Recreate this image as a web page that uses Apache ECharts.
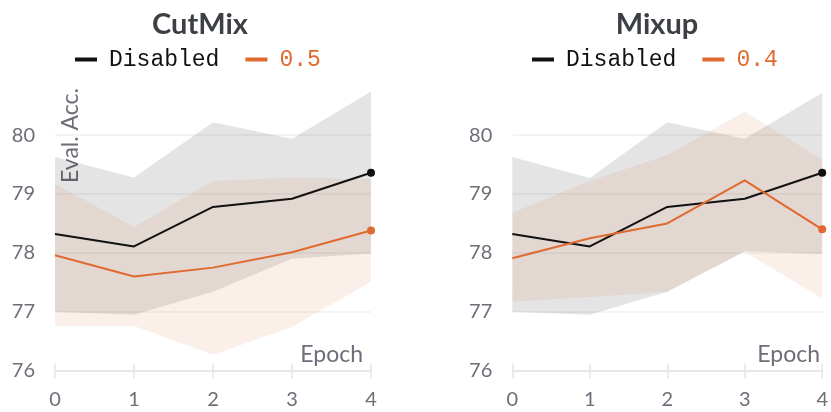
<!DOCTYPE html>
<html>
<head>
<meta charset="utf-8">
<script src="https://cdn.jsdelivr.net/npm/echarts@6/dist/echarts.min.js"></script>
<style>
  html, body { margin: 0; padding: 0; background: #fff; }
  #chart { width: 831px; height: 412px; }
</style>
</head>
<body>
<div id="chart"></div>
<script>
// Epochs on the x axis
const epochs = ['0', '1', '2', '3', '4'];
const yTicks = [76, 77, 78, 79, 80];

// Mean evaluation accuracy per epoch
const disabledAcc = [78.32, 78.11, 78.78, 78.92, 79.36];
const cutmixAcc = [77.96, 77.60, 77.75, 78.01, 78.38];
const mixupAcc = [77.91, 78.25, 78.50, 79.23, 78.40];

// Spread (min / max) around each mean, CutMix panel
const cutmixDisabledLow = [77.00, 76.95, 77.34, 77.90, 77.99];
const cutmixDisabledHigh = [79.63, 79.28, 80.22, 79.94, 80.74];
const cutmixLow = [76.76, 76.76, 76.27, 76.74, 77.51];
const cutmixHigh = [79.17, 78.44, 79.22, 79.28, 79.25];

// Spread (min / max) around each mean, Mixup panel
const mixupDisabledLow = [77.00, 76.95, 77.34, 78.03, 77.98];
const mixupDisabledHigh = [79.63, 79.27, 80.22, 79.94, 80.72];
const mixupLow = [77.17, 77.25, 77.34, 78.02, 77.23];
const mixupHigh = [78.68, 79.22, 79.66, 80.40, 79.58];

const BLACK = '#111111';
const ORANGE = '#e0692f';
const GRAY_FILL = 'rgba(0,0,0,0.105)';
const ORANGE_FILL = 'rgba(220,120,70,0.12)';
const AXIS_GRAY = '#e6e6e6';
const TEXT_GRAY = '#6e6e78';
const SANS = 'Lato';
const MONO = 'Liberation Mono';

function band(id, low, high, fill, axisIdx) {
  return [
    {
      type: 'line', name: id + '-low', stack: id, xAxisIndex: axisIdx, yAxisIndex: axisIdx / 2,
      data: low.slice(), symbol: 'none', lineStyle: { opacity: 0 }, silent: true, z: 1
    },
    {
      type: 'line', name: id + '-high', stack: id, xAxisIndex: axisIdx, yAxisIndex: axisIdx / 2,
      data: high.map((h, i) => +(h - low[i]).toFixed(4)),
      symbol: 'none', lineStyle: { opacity: 0 }, areaStyle: { color: fill, opacity: 1 },
      silent: true, z: 1
    }
  ];
}

function meanLine(name, values, color, axisIdx) {
  const data = values.map((v, i) =>
    i === values.length - 1 ? { value: v, symbol: 'circle', symbolSize: 8 } : { value: v, symbol: 'none' });
  return {
    type: 'line', name, xAxisIndex: axisIdx, yAxisIndex: axisIdx / 2, data,
    showSymbol: true, color, lineStyle: { color, width: 2 },
    itemStyle: { color }, clip: false, z: 3
  };
}

const grids = [
  { left: 55, top: 76.2, width: 316, height: 294.5 },
  { left: 512.3, top: 76.2, width: 316.4, height: 294.5 }
];

function xAxes(gridIndex) {
  const base = {
    type: 'category', data: epochs, boundaryGap: false, gridIndex, position: 'bottom',
    axisLine: { show: true, onZero: false, lineStyle: { color: AXIS_GRAY, width: 1.5 } },
    splitLine: { show: false }
  };
  return [
    Object.assign({}, base, {
      axisTick: { show: true, length: 8, lineStyle: { color: AXIS_GRAY, width: 1.5 } },
      axisLabel: { show: true, margin: 19, color: TEXT_GRAY, fontFamily: SANS, fontSize: 20 }
    }),
    Object.assign({}, base, {
      axisTick: { show: true, inside: true, length: 7, lineStyle: { color: AXIS_GRAY, width: 1.5 } },
      axisLabel: { show: false }
    })
  ];
}

function yAxis(gridIndex) {
  return {
    type: 'value', gridIndex, min: yTicks[0], max: 81, interval: 1,
    axisLine: { show: false }, axisTick: { show: false },
    axisLabel: { show: true, margin: 20, color: TEXT_GRAY, fontFamily: SANS, fontSize: 20,
      showMaxLabel: false, formatter: v => yTicks.includes(v) ? String(v) : '' },
    splitLine: { show: true, showMinLine: false, showMaxLine: false,
      lineStyle: { color: 'rgba(0,0,0,0.06)', width: 1.5 } }
  };
}

const legendText = { fontFamily: MONO, fontSize: 23, color: BLACK, padding: [0, 0, 0, 7] };

const option = {
  animation: false,
  backgroundColor: '#ffffff',
  title: [
    { text: 'CutMix', left: 195, top: 5, textAlign: 'center',
      textStyle: { fontFamily: SANS, fontWeight: 'bold', fontSize: 29, color: '#3c3f44' } },
    { text: 'Mixup', left: 652, top: 5, textAlign: 'center',
      textStyle: { fontFamily: SANS, fontWeight: 'bold', fontSize: 29, color: '#3c3f44' } }
  ],
  legend: [
    { left: 75, top: 48, padding: 0, itemWidth: 22, itemHeight: 4, itemGap: 26, icon: 'rect',
      selectedMode: false, textStyle: legendText,
      data: [{ name: 'Disabled' }, { name: '0.5', textStyle: { color: ORANGE } }] },
    { left: 532, top: 48, padding: 0, itemWidth: 22, itemHeight: 4, itemGap: 26, icon: 'rect',
      selectedMode: false, textStyle: legendText,
      data: [{ name: 'Disabled' }, { name: '0.4', textStyle: { color: ORANGE } }] }
  ],
  grid: grids,
  xAxis: xAxes(0).concat(xAxes(1)),
  yAxis: [yAxis(0), yAxis(1)],
  graphic: [
    { type: 'text', left: 59, top: 88, rotation: Math.PI / 2, originX: 0, originY: 0,
      style: { text: 'Eval. Acc.', fontFamily: SANS, fontSize: 23, fill: TEXT_GRAY } },
    { type: 'text', right: 831 - 363, top: 343,
      style: { text: 'Epoch', fontFamily: SANS, fontSize: 23, fill: TEXT_GRAY } },
    { type: 'text', right: 831 - 820, top: 343,
      style: { text: 'Epoch', fontFamily: SANS, fontSize: 23, fill: TEXT_GRAY } }
  ],
  series: [].concat(
    band('cutmixDisabled', cutmixDisabledLow, cutmixDisabledHigh, GRAY_FILL, 0),
    band('cutmix', cutmixLow, cutmixHigh, ORANGE_FILL, 0),
    [meanLine('Disabled', disabledAcc, BLACK, 0), meanLine('0.5', cutmixAcc, ORANGE, 0)],
    band('mixupDisabled', mixupDisabledLow, mixupDisabledHigh, GRAY_FILL, 2),
    band('mixup', mixupLow, mixupHigh, ORANGE_FILL, 2),
    [meanLine('Disabled', disabledAcc, BLACK, 2), meanLine('0.4', mixupAcc, ORANGE, 2)]
  )
};

const chart = echarts.init(document.getElementById('chart'), null, { renderer: 'canvas' });
chart.setOption(option);
</script>
</body>
</html>
